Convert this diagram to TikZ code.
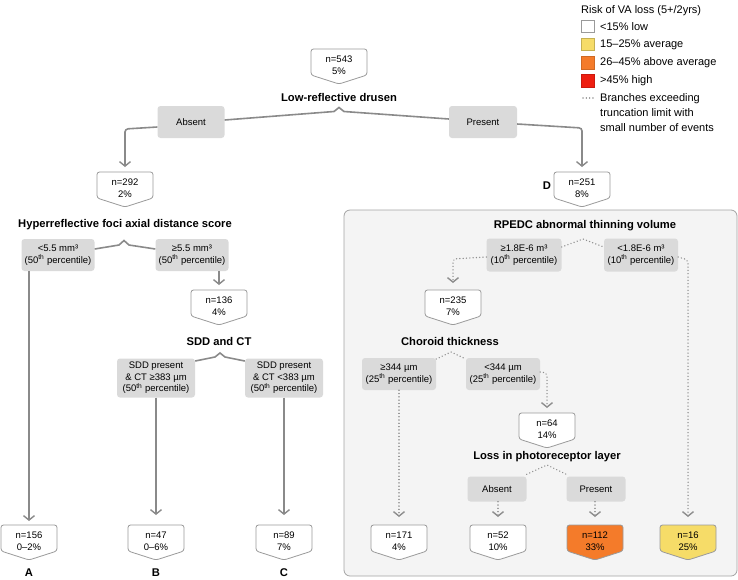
\documentclass[tikz,border=0pt]{standalone}
\usepackage{fontspec}
\setmainfont{Liberation Sans}
\usetikzlibrary{arrows.meta,calc}
\definecolor{linegray}{HTML}{8A8A8A}
\definecolor{dotgray}{HTML}{8E8E8E}
\definecolor{boxgray}{HTML}{DADADA}
\definecolor{panelgray}{HTML}{F4F4F4}
\definecolor{panelborder}{HTML}{A3A3A3}
\definecolor{leafborder}{HTML}{9A9A9A}
\definecolor{riskorange}{HTML}{F47B2A}
\definecolor{riskyellow}{HTML}{F6DC68}
\definecolor{riskred}{HTML}{EE1E10}
\newcommand\nodefont{\fontsize{9.5}{11.5}\selectfont}
\newcommand\hdfont{\fontsize{11.2}{13}\selectfont\bfseries}
\newcommand\lgfont{\fontsize{11}{15.3}\selectfont}
\newcommand\thsup{\textsuperscript{th}}
\tikzset{
  condbox/.style={fill=boxgray, rounded corners=3pt, inner sep=0pt, align=center, font=\nodefont},
  heading/.style={font=\hdfont, inner sep=0pt},
  leafline/.style={draw=leafborder, line width=0.8pt, rounded corners=2.5pt},
  leaftext/.style={minimum width=56pt, minimum height=32pt, inner sep=0pt, align=center, font=\nodefont},
  solidlink/.style={draw=linegray, line width=1.6pt, rounded corners=3pt},
  dotlink/.style={draw=dotgray, line width=1.5pt, line cap=round, dash pattern=on 0.01pt off 3.3pt, rounded corners=2pt},
  tipped/.style={-{Straight Barb[length=4.5pt, width=11pt, line width=1.4pt, line cap=butt]}},
  lgtext/.style={font=\lgfont, inner sep=0pt, align=left},
  legbox/.style={minimum width=12.5pt, minimum height=12.5pt, inner sep=0pt, draw=leafborder, line width=0.6pt}
}
\newcommand\leaf[5]{%
  \path[leafline, fill=#4] ({#2-28},{#3}) -- ({#2-28},{#3+26}) -- ({#2},{#3+35}) -- ({#2+28},{#3+26}) -- ({#2+28},{#3}) -- cycle;
  \node[leaftext, anchor=north] (#1) at ({#2},{#3}) {#5};}
\begin{document}
\begin{tikzpicture}[x=1pt, y=-1pt]
\useasboundingbox (0,0) rectangle (738,579);
% panel
\draw[draw=panelborder, fill=panelgray, rounded corners=6pt, line width=0.8pt] (344,210) rectangle (737,576);

% legend
\node[lgtext, anchor=west] (legtitle) at (581,11) {Risk of VA loss (5+/2yrs)};
\node[legbox, fill=white] (lk1) at (588,26.5) {};
\node[lgtext, anchor=west] (lt1) at (600,26.5) {<15\% low};
\node[legbox, fill=riskyellow, draw=riskyellow!80!black] (lk2) at (588,44.5) {};
\node[lgtext, anchor=west] (lt2) at (600,44.5) {15–25\% average};
\node[legbox, fill=riskorange, draw=riskorange!85!black] (lk3) at (588,62.7) {};
\node[lgtext, anchor=west] (lt3) at (600,62.7) {26–45\% above average};
\node[legbox, fill=riskred, draw=riskred!85!black] (lk4) at (588,80.7) {};
\node[lgtext, anchor=west] (lt4) at (600,80.7) {>45\% high};
\coordinate (ld1) at (583,98);
\coordinate (ld2) at (595,98);
\draw[dotlink] (ld1) -- (ld2);
\node[lgtext, anchor=north west] (lt5) at (600,93) {Branches exceeding\\truncation limit with\\small number of events};

% top
\leaf{n543}{339}{49}{white}{n=543\\5\%}
\node[heading] (drusen) at (339,97) {Low-reflective drusen};
\node[condbox, minimum width=67pt, minimum height=32pt] (absent) at (191,122) {Absent};
\node[condbox, minimum width=68pt, minimum height=32pt] (present) at (483,122) {Present};
\coordinate (apexA) at (339,107.5);
\draw[solidlink, sharp corners] ($(absent.east)+(0,-2)$) -- (334,111.5) -- (apexA) -- (344,111.5) -- ($(present.west)+(0,-3)$);
\coordinate (bendA) at (125,129);
\coordinate (bendB) at (582,128);
\leaf{n292}{125}{172}{white}{n=292\\2\%}
\leaf{n251}{582}{172}{white}{n=251\\8\%}
\node[heading] (labD) at (547,186) {D};
\draw[solidlink, tipped, shorten >=5pt] ($(absent.west)+(0,5)$) -- (bendA) -- (n292.north);
\draw[solidlink, tipped, shorten >=5pt] ($(present.east)+(0,2)$) -- (bendB) -- (n251.north);

% left subtree
\node[heading] (hyper) at (125,225) {Hyperreflective foci axial distance score};
\node[condbox, minimum width=73pt, minimum height=32pt] (lt55) at (58,255) {<5.5 mm³\\(50\thsup{} percentile)};
\node[condbox, minimum width=73pt, minimum height=32pt] (ge55) at (192,255) {≥5.5 mm³\\(50\thsup{} percentile)};
\coordinate (apexB) at (124,240.5);
\draw[solidlink, sharp corners] ($(lt55.east)+(0,-6)$) -- (119,245) -- (apexB) -- (129,245) -- ($(ge55.west)+(0,-6)$);
\leaf{n136}{219}{290}{white}{n=136\\4\%}
\draw[solidlink, tipped, shorten >=5pt] (ge55.south -| n136.north) -- (n136.north);
\node[heading] (sddct) at (219,341) {SDD and CT};
\node[condbox, minimum width=78pt, minimum height=39pt] (sddL) at (156,378) {SDD present\\\& CT ≥383 µm\\(50\thsup{} percentile)};
\node[condbox, minimum width=78pt, minimum height=39pt] (sddR) at (284,378) {SDD present\\\& CT <383 µm\\(50\thsup{} percentile)};
\coordinate (apexC) at (220,353);
\draw[solidlink, sharp corners] ($(sddL.east)+(0,-17)$) -- (215,357) -- (apexC) -- (225,357) -- ($(sddR.west)+(0,-17)$);
\leaf{n156}{29}{525}{white}{n=156\\0–2\%}
\leaf{n47}{156}{525}{white}{n=47\\0–6\%}
\leaf{n89}{284}{525}{white}{n=89\\7\%}
\draw[solidlink, tipped, shorten >=4pt] (lt55.south -| n156.north) -- (n156.north);
\draw[solidlink, tipped, shorten >=10pt] (sddL.south) -- (n47.north);
\draw[solidlink, tipped, shorten >=10pt] (sddR.south) -- (n89.north);
\node[heading] (labA) at (29,573) {A};
\node[heading] (labB) at (156,573) {B};
\node[heading] (labC) at (284,573) {C};

% right subtree
\node[heading] (rpedc) at (585,226) {RPEDC abnormal thinning volume};
\node[condbox, minimum width=75pt, minimum height=33pt] (ge18) at (524,255) {≥1.8E-6 m³\\(10\thsup{} percentile)};
\node[condbox, minimum width=74pt, minimum height=33pt] (lt18) at (641,255) {<1.8E-6 m³\\(10\thsup{} percentile)};
\coordinate (apexD) at (583,239);
\draw[dotlink, sharp corners] ($(ge18.east)+(0,-8)$) -- (apexD) -- ($(lt18.west)+(0,-8)$);
\leaf{n235}{453}{290}{white}{n=235\\7\%}
\coordinate (bendC) at (453,259);
\coordinate (bendD) at (688,260);
\draw[dotlink, tipped, shorten >=7pt] ($(ge18.west)+(0,2)$) -- (bendC) -- (n235.north);
\node[heading] (choroid) at (450,341) {Choroid thickness};
\node[condbox, minimum width=74pt, minimum height=32pt] (ge344) at (399,374) {≥344 µm\\(25\thsup{} percentile)};
\node[condbox, minimum width=74pt, minimum height=32pt] (lt344) at (503,374) {<344 µm\\(25\thsup{} percentile)};
\coordinate (apexE) at (451,352);
\draw[dotlink, sharp corners] ($(ge344.east)+(0,-15)$) -- (apexE) -- ($(lt344.west)+(0,-15)$);
\leaf{n64}{547}{413}{white}{n=64\\14\%}
\coordinate (bendE) at (547,373);
\draw[dotlink, tipped, shorten >=5pt] ($(lt344.east)+(0,-2)$) -- (bendE) -- (n64.north);
\node[heading] (loss) at (547,457) {Loss in photoreceptor layer};
\node[condbox, minimum width=59pt, minimum height=25pt] (absent2) at (497,489) {Absent};
\node[condbox, minimum width=59pt, minimum height=25pt] (present2) at (596,489) {Present};
\coordinate (apexF) at (547,465);
\draw[dotlink, sharp corners] ($(absent2.north east)+(0,-2)$) -- (apexF) -- ($(present2.north west)+(0,-2)$);
\leaf{n171}{399}{525}{white}{n=171\\4\%}
\leaf{n52}{498}{525}{white}{n=52\\10\%}
\leaf{n112}{595}{525}{riskorange}{n=112\\33\%}
\leaf{n16}{688}{525}{riskyellow}{n=16\\25\%}
\draw[dotlink, tipped, shorten >=8pt] (ge344.south) -- (n171.north);
\draw[dotlink, tipped, shorten >=8pt] (absent2.south -| n52.north) -- (n52.north);
\draw[dotlink, tipped, shorten >=8pt] (present2.south -| n112.north) -- (n112.north);
\draw[dotlink, tipped, shorten >=8pt] ($(lt18.east)+(0,2)$) -- (bendD) -- (n16.north);
\end{tikzpicture}
\end{document}
